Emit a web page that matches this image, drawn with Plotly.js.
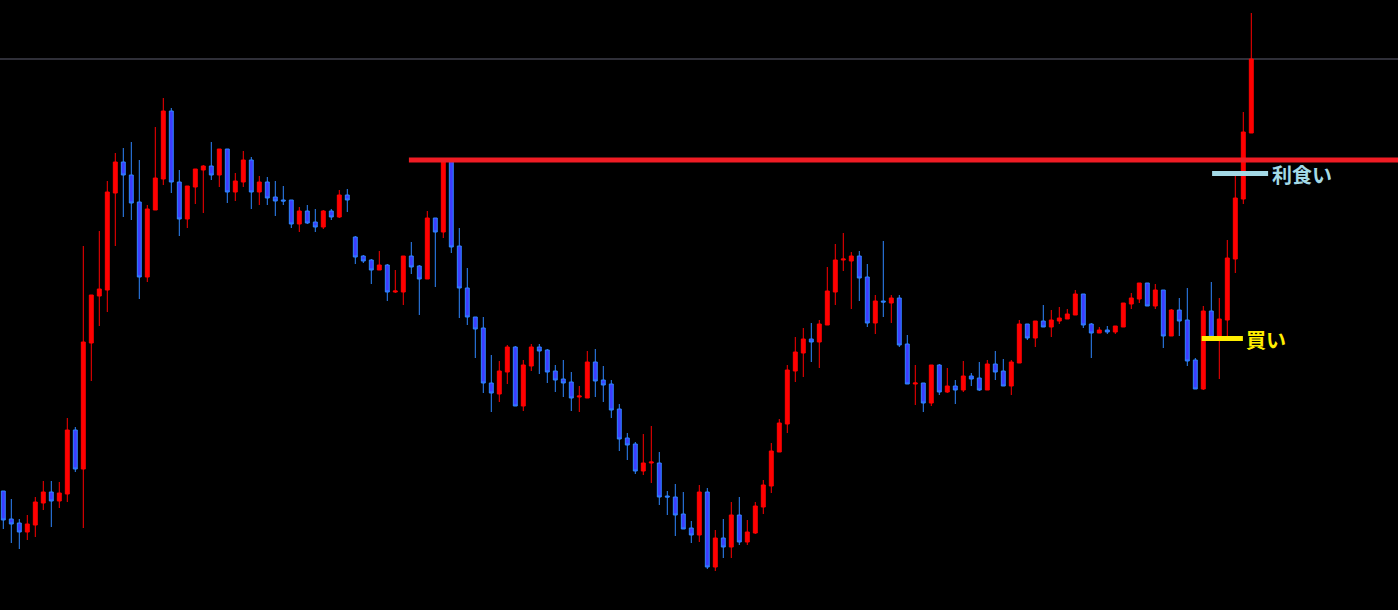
<!DOCTYPE html>
<html>
<head>
<meta charset="utf-8">
<script src="https://cdn.plot.ly/plotly-3.0.1.min.js"></script>
<style>
  html, body { margin: 0; padding: 0; background: #000; }
  #chart { width: 1398px; height: 610px; }
</style>
</head>
<body>
<div id="chart"></div>
<script>
// Bar index (one candle per period)
const bars = Array.from({length: 157}, (_, i) => i);

// Price values (points)
const open = [119,91,87,78,85,107,118,109,116,180,141,267,314,320,417,448,435,408,333,400,
431,499,428,391,423,440,444,435,461,418,428,450,418,428,413,410,410,386,399,388,
383,399,393,415,373,354,350,340,345,318,318,354,344,331,392,378,449,364,322,293,
282,227,216,238,263,204,244,263,260,239,231,228,213,212,248,230,226,201,172,166,
139,147,147,114,113,96,82,75,118,43,72,63,95,68,77,103,124,158,186,239,
257,271,268,285,318,350,349,354,333,287,309,307,312,266,226,227,207,245,218,224,
220,234,232,220,246,239,224,247,286,272,289,283,289,291,295,316,286,277,280,278,
283,306,311,327,304,320,274,300,290,250,221,299,273,290,351,411,477];

const high = [119,111,91,95,113,129,129,128,192,183,364,315,379,429,457,462,468,450,405,483,
512,502,440,424,441,445,468,461,461,437,459,453,434,433,429,424,410,403,405,401,
400,401,420,421,374,355,351,359,346,340,354,368,345,399,392,451,451,382,342,293,
293,255,249,265,264,250,266,266,261,245,250,238,224,259,261,244,230,206,177,168,
176,184,158,119,126,118,89,125,122,80,91,108,113,90,108,130,167,191,245,273,
282,287,290,343,366,377,358,359,346,315,369,315,315,275,245,227,245,246,242,230,
249,237,248,250,259,251,250,290,286,289,305,300,303,301,320,316,287,283,284,284,
307,317,327,327,326,320,301,312,322,252,304,328,312,370,434,498,597];

const low = [81,67,61,70,73,100,83,102,108,138,82,229,284,298,364,393,390,311,328,400,
425,417,374,382,406,397,430,423,407,409,423,401,405,405,394,405,382,378,386,378,
381,390,392,398,346,347,326,340,309,317,305,336,295,331,323,372,357,292,285,252,
217,198,208,226,204,199,239,236,227,218,213,199,198,212,213,208,192,159,150,136,
135,127,105,95,74,81,67,68,41,39,52,52,65,65,76,96,117,158,177,228,
233,248,242,285,305,339,301,309,283,276,293,287,263,226,205,198,204,215,217,206,
218,224,219,220,230,224,215,247,270,263,283,273,286,291,295,282,252,277,276,276,
283,301,307,304,301,262,274,274,244,221,220,270,231,274,337,406,477];

const close = [90,86,78,86,108,118,109,117,180,141,268,315,321,418,448,435,407,333,401,432,
499,428,391,424,441,444,435,461,418,429,450,418,428,412,409,409,386,399,387,383,
399,393,415,410,353,349,340,345,318,319,354,343,331,392,378,449,363,322,293,281,
227,217,239,263,204,245,263,259,238,230,227,212,214,248,229,225,200,171,165,139,
147,148,113,113,95,81,75,118,43,72,63,95,68,78,104,125,159,187,240,258,
271,268,286,319,350,351,354,332,287,309,308,312,265,226,227,207,245,218,224,220,
234,231,220,246,238,224,248,286,272,289,283,290,292,296,316,285,277,280,278,284,
307,312,327,304,320,274,300,289,249,221,299,273,291,352,412,478,551];

// Marked price levels
const resistanceLevel = 450;
const resistanceStart = 50.7;
const takeProfitLevel = 436.5;
const buyLevel = 271.5;
const lastClose = close[close.length - 1];

const trace = {
  type: 'candlestick',
  x: bars, open: open, high: high, low: low, close: close,
  increasing: { line: { color: '#ff0000', width: 1 }, fillcolor: '#ff0000' },
  decreasing: { line: { color: '#2f86ff', width: 1 }, fillcolor: '#3d3dff' },
  whiskerwidth: 0,
  hoverinfo: 'none'
};

const layout = {
  width: 1398, height: 610,
  margin: { l: 0, r: 0, t: 0, b: 0, pad: 0 },
  paper_bgcolor: '#000000',
  plot_bgcolor: '#000000',
  showlegend: false,
  boxgap: 0.3,
  boxgroupgap: 0.3,
  xaxis: { visible: false, range: [-0.4125, 174.3375], rangeslider: { visible: false }, fixedrange: true },
  yaxis: { visible: false, range: [0, 610], fixedrange: true },
  shapes: [
    { type: 'line', xref: 'paper', x0: 0, x1: 1, yref: 'y', y0: lastClose, y1: lastClose,
      line: { color: '#5e5e70', width: 1 }, layer: 'below' },
    { type: 'line', xref: 'x', x0: resistanceStart, x1: 176, yref: 'y', y0: resistanceLevel, y1: resistanceLevel,
      line: { color: '#f01c24', width: 5 }, layer: 'above' },
    { type: 'line', xref: 'x', x0: 151.1, x1: 158.1, yref: 'y', y0: takeProfitLevel, y1: takeProfitLevel,
      line: { color: '#a3d9e6', width: 5 }, layer: 'above' },
    { type: 'line', xref: 'x', x0: 149.8, x1: 154.95, yref: 'y', y0: buyLevel, y1: buyLevel,
      line: { color: '#ffee00', width: 5 }, layer: 'above' }
  ],
  annotations: [
    { x: 158.3, y: takeProfitLevel - 1, xref: 'x', yref: 'y', xanchor: 'left', yanchor: 'middle',
      text: '<b>利食い</b>', showarrow: false,
      font: { family: 'Noto Sans CJK JP, sans-serif', size: 20, color: '#a3d9e6' } },
    { x: 155.05, y: buyLevel - 1, xref: 'x', yref: 'y', xanchor: 'left', yanchor: 'middle',
      text: '<b>買い</b>', showarrow: false,
      font: { family: 'Noto Sans CJK JP, sans-serif', size: 20, color: '#ffee00' } }
  ]
};

Plotly.newPlot('chart', [trace], layout, { displayModeBar: false, staticPlot: true });
</script>
</body>
</html>
